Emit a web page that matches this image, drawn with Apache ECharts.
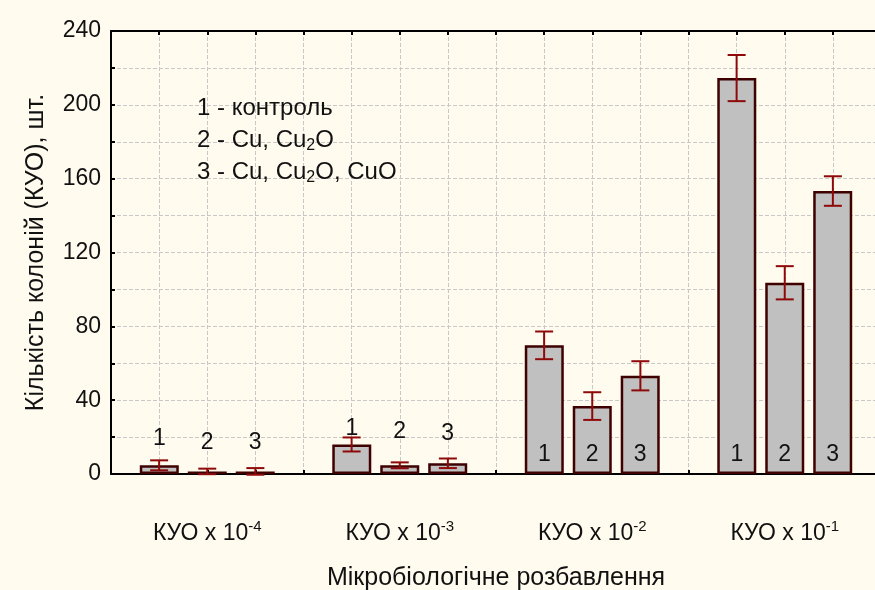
<!DOCTYPE html>
<html><head><meta charset="utf-8">
<script src="https://cdn.jsdelivr.net/npm/echarts@6/dist/echarts.min.js"></script>
<style>html,body{margin:0;padding:0;background:#FFFBEF;}#c{width:875px;height:590px;}</style>
</head><body><div id="c"></div>
<script>
// ---- data ----
const categoryBase = ['КУО x 10', 'КУО x 10', 'КУО x 10', 'КУО x 10'];
const categoryExp = ['-4', '-3', '-2', '-1'];
const seriesNames = ['1', '2', '3'];
const control = [4.7, 16.0, 69.7, 214.5];
const cuCu2O = [1.4, 4.7, 36.8, 103.6];
const cuCu2OCuO = [1.4, 5.8, 53.2, 153.3];
const errControl = [2.7, 3.8, 7.5, 12.5];
const errCuCu2O = [1.5, 1.6, 7.5, 9.0];
const errCuCu2OCuO = [1.8, 2.6, 7.9, 8.0];
const yTicks = [0, 40, 80, 120, 160, 200, 240];
const legendLines = ['1 - контроль', '2 - Cu, Cu{sub|2}O', '3 - Cu, Cu{sub|2}O, CuO'];

const values = [control, cuCu2O, cuCu2OCuO];
const errs = [errControl, errCuCu2O, errCuCu2OCuO];
// label distances above bars for the two leftmost groups (style)
const topLabelDist = [[15, 4], [17, 22], [17, 18]];

const FONT = '"Liberation Sans", Arial, sans-serif';
const FS = 23;
const chart = echarts.init(document.getElementById('c'));

const barSeries = values.map((vals, s) => ({
  type: 'bar',
  name: seriesNames[s],
  xAxisIndex: 0, yAxisIndex: 0,
  barWidth: 39,
  barGap: '23%',
  itemStyle: { color: '#C0C0C0', borderColor: '#3F0000', borderWidth: 2.5 },
  data: vals.map((v, g) => ({
    value: v,
    label: g < 2
      ? { show: true, position: 'top', distance: topLabelDist[s][g], formatter: seriesNames[s], fontSize: FS, color: '#111', fontFamily: FONT }
      : { show: true, position: 'insideBottom', distance: 8, formatter: seriesNames[s], fontSize: FS, color: '#111', fontFamily: FONT }
  })),
  z: 2
}));

const errData = [];
values.forEach((vals, s) => vals.forEach((v, g) => errData.push([g, v - errs[s][g], v + errs[s][g], s])));

const errSeries = {
  type: 'custom',
  xAxisIndex: 0, yAxisIndex: 0,
  z: 5,
  renderItem: function (params, api) {
    const g = api.value(0), lo = api.value(1), hi = api.value(2), s = api.value(3);
    const slot = api.size([1, 0])[0] / 4;
    const pLo = api.coord([g, Math.max(lo, 0)]);
    const pHi = api.coord([g, hi]);
    const x = pLo[0] + (s - 1) * slot;
    const hw = 9;
    const st = { stroke: '#8E0A0A', lineWidth: 2 };
    const yl = api.coord([g, lo])[1];
    return { type: 'group', children: [
      { type: 'line', shape: { x1: x, y1: pLo[1], x2: x, y2: pHi[1] }, style: st },
      { type: 'line', shape: { x1: x - hw, y1: pHi[1], x2: x + hw, y2: pHi[1] }, style: st },
      { type: 'line', shape: { x1: x - hw, y1: yl, x2: x + hw, y2: yl }, style: st }
    ]};
  },
  encode: { x: 0, y: [1, 2] },
  data: errData
};

chart.setOption({
  backgroundColor: '#FFFBEF',
  animation: false,
  textStyle: { fontFamily: FONT },
  grid: { left: 111, top: 31, width: 770, bottom: 116, containLabel: false, outerBoundsMode: 'none' },
  xAxis: [
    {
      type: 'category', data: categoryBase.map((b, i) => b + i), position: 'bottom',
      axisLine: { lineStyle: { color: '#000', width: 2 } },
      axisTick: { show: false },
      axisLabel: {
        margin: 45,
        formatter: (val, i) => '{b|' + categoryBase[i] + '}{s|' + categoryExp[i] + '}',
        rich: {
          b: { fontSize: FS, color: '#111', fontFamily: FONT },
          s: { fontSize: 15, color: '#111', fontFamily: FONT, padding: [0, 0, 14, 0] }
        }
      },
      splitLine: { show: false },
      name: 'Мікробіологічне розбавлення', nameLocation: 'middle', nameGap: 92,
      nameTextStyle: { fontSize: 25, color: '#111', fontFamily: FONT }
    },
    {
      type: 'value', min: 0, max: 16, interval: 1, position: 'top',
      axisLine: { show: true, lineStyle: { color: '#000', width: 2 } },
      axisTick: { show: true, inside: true, length: 4, lineStyle: { color: '#000', width: 2 } },
      axisLabel: { show: false },
      splitLine: { show: true, lineStyle: { type: 'dashed', color: '#C8C8C8', width: 1 } }
    },
    {
      type: 'value', min: 0, max: 16, interval: 1, position: 'bottom',
      axisLine: { show: false },
      axisTick: { show: true, inside: true, length: 4, lineStyle: { color: '#000', width: 2 } },
      axisLabel: { show: false },
      splitLine: { show: false }
    }
  ],
  yAxis: [{
    type: 'value', min: 0, max: 240, interval: 20,
    axisLine: { show: true, lineStyle: { color: '#000', width: 2 } },
    axisTick: { show: true, inside: true, length: 4, lineStyle: { color: '#000', width: 2 } },
    axisLabel: {
      margin: 10, fontSize: FS, color: '#111', fontFamily: FONT,
      formatter: v => yTicks.indexOf(v) >= 0 ? String(v) : ''
    },
    splitLine: { show: true, lineStyle: { type: 'dashed', color: '#C8C8C8', width: 1 } },
    name: 'Кількість колоній (КУО), шт.', nameLocation: 'middle', nameGap: 62,
    nameTextStyle: { fontSize: 25, color: '#111', fontFamily: FONT }
  }],
  graphic: legendLines.map((t, i) => ({
    type: 'text', left: 197, top: 96 + i * 32,
    style: {
      text: '{m|' + t.replace(/\{sub\|2\}/g, '}{sub|2}{m|') + '}',
      rich: {
        m: { fontSize: 24, fill: '#111', fontFamily: FONT },
        sub: { fontSize: 16, fill: '#111', fontFamily: FONT, padding: [12, 0, 0, 0] }
      }
    },
    z: 10
  })),
  series: [...barSeries, errSeries]
});
</script></body></html>
